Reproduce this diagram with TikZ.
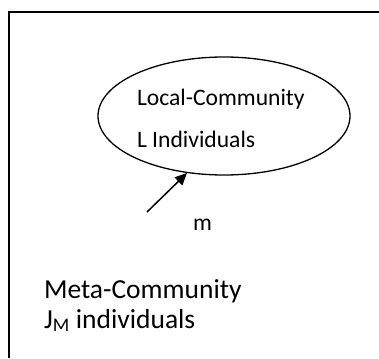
\documentclass[tikz,border=0pt]{standalone}
\usepackage{fontspec}
\setmainfont{Carlito}
\usetikzlibrary{shapes.geometric,arrows.meta}
\begin{document}
\begin{tikzpicture}[x=1pt,y=-1pt,
  lbl/.style={inner sep=0pt,outer sep=0pt,anchor=base west},
  small/.style={lbl,font=\fontsize{23.6}{28}\selectfont},
  big/.style={lbl,font=\fontsize{27.5}{32}\selectfont}]
\useasboundingbox (0,0) rectangle (379,358);
\draw[line width=2pt] (8.5,358) -- (8.5,11.7) -- (379,11.7);
\node[draw,ellipse,line width=1.3pt,minimum width=252pt,minimum height=118pt,inner sep=0pt] (ell) at (224,116) {};
\node[small] (t1) at (137,106) {Local-Community};
\node[small] (t2) at (137,147) {L Individuals};
\node[small] (m) at (193,230) {m};
\node[big] (t3) at (44,298) {Meta-Community};
\node[big] (t4) at (44,328) {J\textsubscript{M} individuals};
\coordinate (src) at (147,212);
\draw[line width=1.5pt,-{Triangle[length=12pt,width=11pt]}] (src) -- (ell.237);
\end{tikzpicture}
\end{document}
